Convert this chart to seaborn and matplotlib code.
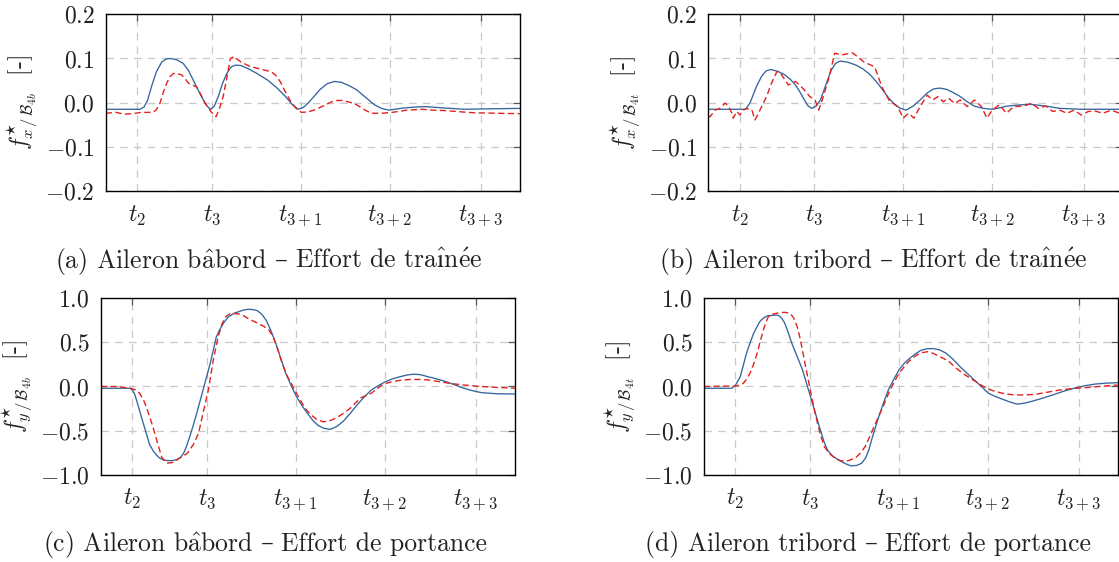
import matplotlib
matplotlib.use("Agg")
import matplotlib.pyplot as plt
import numpy as np
import pandas as pd
import seaborn as sns

# ---------------- data (time in periods) ----------------
tick_pos = [0.355, 1.191, 2.19, 3.19, 4.217]
tick_labels = [r"$t_2$", r"$t_3$", r"$t_{3+1}$", r"$t_{3+2}$", r"$t_{3+3}$"]
x_max = 4.652

# (a) bâbord - traînée
a_blue_t = [0.0, 0.385, 0.43, 0.47, 0.52, 0.57, 0.63, 0.68, 0.73, 0.80, 0.87, 0.93, 0.984, 1.04, 1.097, 1.14,
            1.18, 1.22, 1.265, 1.31, 1.36, 1.41, 1.46, 1.52, 1.60, 1.70, 1.82, 1.92, 2.02, 2.09, 2.16, 2.22,
            2.28, 2.34, 2.41, 2.49, 2.57, 2.65, 2.74, 2.82, 2.92, 3.02, 3.10, 3.18, 3.25, 3.35, 3.48, 3.59,
            3.80, 4.03, 4.30, 4.652]
a_blue_v = [-0.015, -0.015, -0.010, 0.005, 0.040, 0.070, 0.092, 0.099, 0.100, 0.097, 0.089, 0.073, 0.051,
            0.028, 0.006, -0.008, -0.015, -0.008, 0.014, 0.042, 0.066, 0.081, 0.085, 0.084, 0.077, 0.066,
            0.051, 0.034, 0.014, -0.003, -0.015, -0.011, 0.000, 0.014, 0.030, 0.043, 0.048, 0.046, 0.038,
            0.029, 0.012, -0.005, -0.013, -0.017, -0.015, -0.012, -0.010, -0.009, -0.012, -0.015, -0.014,
            -0.013]
a_red_t = [0.0, 0.12, 0.2, 0.3, 0.4, 0.53, 0.57, 0.61, 0.65, 0.685, 0.72, 0.76, 0.80, 0.853, 0.89, 0.93, 0.97,
           1.02, 1.07, 1.116, 1.19, 1.24, 1.28, 1.32, 1.36, 1.40, 1.44, 1.52, 1.62, 1.74, 1.86, 1.91, 1.96,
           2.02, 2.08, 2.14, 2.20, 2.27, 2.34, 2.44, 2.54, 2.60, 2.66, 2.74, 2.82, 2.90, 2.98, 3.10, 3.22,
           3.38, 3.55, 3.68, 3.82, 4.0, 4.15, 4.40, 4.652]
a_red_v = [-0.024, -0.022, -0.026, -0.025, -0.022, -0.022, -0.016, -0.001, 0.025, 0.044, 0.058, 0.066, 0.066,
           0.063, 0.055, 0.044, 0.040, 0.036, 0.018, -0.001, -0.022, -0.032, -0.012, 0.014, 0.055, 0.100,
           0.104, 0.092, 0.082, 0.076, 0.070, 0.062, 0.048, 0.024, 0.002, -0.013, -0.022, -0.021, -0.017,
           -0.008, 0.002, 0.005, 0.005, 0.001, -0.005, -0.015, -0.024, -0.024, -0.022, -0.017, -0.015,
           -0.017, -0.018, -0.021, -0.023, -0.024, -0.025]

# (b) tribord - traînée
b_blue_t = [0.0, 0.42, 0.47, 0.54, 0.60, 0.65, 0.70, 0.78, 0.86, 0.92, 0.98, 1.03, 1.08, 1.12, 1.16, 1.21,
            1.26, 1.32, 1.38, 1.43, 1.48, 1.56, 1.66, 1.74, 1.82, 1.89, 1.96, 2.02, 2.08, 2.15, 2.22, 2.30,
            2.38, 2.46, 2.53, 2.60, 2.68, 2.76, 2.83, 2.91, 2.99, 3.09, 3.19, 3.27, 3.35, 3.50, 3.63, 3.80,
            3.95, 4.20, 4.652]
b_blue_v = [-0.015, -0.015, 0.000, 0.036, 0.060, 0.072, 0.075, 0.071, 0.063, 0.053, 0.040, 0.024, 0.006,
            -0.007, -0.013, -0.008, 0.006, 0.040, 0.073, 0.089, 0.094, 0.092, 0.085, 0.076, 0.063, 0.047,
            0.029, 0.012, -0.001, -0.012, -0.017, -0.008, 0.006, 0.022, 0.031, 0.033, 0.030, 0.022, 0.014,
            0.002, -0.008, -0.013, -0.015, -0.012, -0.008, -0.005, -0.004, -0.008, -0.013, -0.015, -0.015]
b_red_t = [0.0, 0.02, 0.075, 0.13, 0.19, 0.23, 0.265, 0.28, 0.32, 0.355, 0.39, 0.43, 0.49, 0.525, 0.58, 0.655,
           0.71, 0.77, 0.80, 0.90, 0.98, 1.06, 1.14, 1.20, 1.24, 1.28, 1.36, 1.42, 1.50, 1.62, 1.75, 1.87,
           1.95, 2.03, 2.13, 2.19, 2.25, 2.31, 2.38, 2.46, 2.52, 2.58, 2.64, 2.70, 2.77, 2.83, 2.91, 2.99,
           3.07, 3.13, 3.19, 3.27, 3.35, 3.43, 3.55, 3.63, 3.71, 3.79, 3.87, 3.95, 4.03, 4.11, 4.19, 4.27,
           4.35, 4.43, 4.53, 4.62, 4.652]
b_red_v = [-0.030, -0.032, -0.017, -0.013, -0.001, -0.009, -0.024, -0.035, -0.020, -0.028, -0.017, -0.013,
           -0.017, -0.039, -0.017, 0.014, 0.044, 0.070, 0.070, 0.040, 0.048, 0.033, 0.014, 0.006, -0.017,
           0.006, 0.059, 0.112, 0.108, 0.113, 0.092, 0.081, 0.036, 0.006, -0.010, -0.035, -0.024, -0.035,
           -0.009, 0.017, 0.006, 0.0135, 0.002, 0.010, -0.002, 0.006, -0.009, 0.006, -0.009, -0.035, -0.017,
           -0.005, -0.024, -0.009, -0.0075, -0.0015, -0.013, -0.0075, -0.020, -0.017, -0.024, -0.017, -0.028,
           -0.020, -0.019, -0.024, -0.017, -0.024, -0.022]

# (c) bâbord - portance
c_blue_t = [0.0, 0.33, 0.36, 0.385, 0.41, 0.44, 0.47, 0.50, 0.55, 0.59, 0.63, 0.66, 0.70, 0.75, 0.80, 0.855,
            0.90, 0.93, 0.96, 1.00, 1.04, 1.08, 1.15, 1.23, 1.30, 1.335, 1.38, 1.435, 1.50, 1.555, 1.61, 1.66,
            1.71, 1.76, 1.81, 1.86, 1.91, 1.96, 2.02, 2.08, 2.14, 2.20, 2.26, 2.32, 2.38, 2.44, 2.51, 2.58,
            2.65, 2.72, 2.80, 2.88, 2.96, 3.04, 3.12, 3.20, 3.28, 3.36, 3.44, 3.52, 3.60, 3.68, 3.78, 3.88,
            3.98, 4.08, 4.18, 4.28, 4.45, 4.652]
c_blue_v = [-0.02, -0.02, -0.045, -0.096, -0.18, -0.285, -0.39, -0.49, -0.66, -0.73, -0.78, -0.81, -0.83,
            -0.84, -0.84, -0.83, -0.80, -0.76, -0.69, -0.57, -0.44, -0.30, -0.04, 0.26, 0.565, 0.64, 0.72,
            0.79, 0.83, 0.85, 0.868, 0.875, 0.872, 0.86, 0.82, 0.75, 0.64, 0.51, 0.33, 0.15, 0.01, -0.115,
            -0.215, -0.30, -0.38, -0.44, -0.475, -0.486, -0.455, -0.40, -0.31, -0.21, -0.12, -0.04, 0.01,
            0.055, 0.087, 0.11, 0.13, 0.14, 0.133, 0.11, 0.085, 0.055, 0.018, -0.02, -0.048, -0.07, -0.082,
            -0.085]
c_red_t = [0.0, 0.18, 0.26, 0.33, 0.40, 0.44, 0.48, 0.515, 0.55, 0.59, 0.63, 0.685, 0.74, 0.815, 0.89, 0.97,
           1.04, 1.10, 1.15, 1.21, 1.265, 1.32, 1.36, 1.395, 1.435, 1.475, 1.575, 1.675, 1.76, 1.835, 1.89,
           1.935, 1.99, 2.04, 2.09, 2.14, 2.19, 2.24, 2.30, 2.36, 2.43, 2.50, 2.57, 2.64, 2.72, 2.80, 2.86,
           2.92, 3.04, 3.10, 3.16, 3.22, 3.28, 3.38, 3.48, 3.58, 3.68, 3.80, 3.92, 4.05, 4.20, 4.40, 4.652]
c_red_v = [0.0, 0.0, -0.01, -0.02, -0.04, -0.08, -0.15, -0.24, -0.34, -0.47, -0.61, -0.80, -0.87, -0.86,
           -0.81, -0.76, -0.66, -0.53, -0.30, -0.04, 0.30, 0.565, 0.70, 0.78, 0.815, 0.83, 0.82, 0.76, 0.72,
           0.68, 0.64, 0.57, 0.42, 0.26, 0.13, 0.036, -0.06, -0.15, -0.25, -0.32, -0.375, -0.40, -0.39, -0.36,
           -0.31, -0.25, -0.19, -0.13, -0.077, -0.03, 0.017, 0.04, 0.055, 0.072, 0.08, 0.08, 0.074, 0.056,
           0.036, 0.02, 0.006, -0.008, -0.02]

# (d) tribord - portance
d_blue_t = [0.0, 0.315, 0.36, 0.41, 0.445, 0.48, 0.52, 0.56, 0.60, 0.63, 0.67, 0.71, 0.76, 0.82, 0.85, 0.88,
            0.91, 0.95, 0.99, 1.05, 1.11, 1.16, 1.21, 1.26, 1.31, 1.35, 1.39, 1.45, 1.51, 1.58, 1.655, 1.72,
            1.775, 1.82, 1.855, 1.90, 1.955, 2.015, 2.075, 2.135, 2.195, 2.255, 2.315, 2.38, 2.44, 2.51, 2.58,
            2.65, 2.72, 2.80, 2.88, 2.96, 3.04, 3.12, 3.20, 3.28, 3.36, 3.44, 3.52, 3.60, 3.68, 3.80, 3.92,
            4.04, 4.16, 4.28, 4.40, 4.52, 4.652]
d_blue_v = [-0.02, -0.02, 0.02, 0.11, 0.24, 0.375, 0.49, 0.60, 0.68, 0.735, 0.775, 0.80, 0.805, 0.81, 0.80,
            0.77, 0.72, 0.61, 0.49, 0.34, 0.19, 0.02, -0.15, -0.32, -0.49, -0.62, -0.72, -0.79, -0.83, -0.87,
            -0.90, -0.895, -0.87, -0.81, -0.72, -0.56, -0.38, -0.20, -0.04, 0.08, 0.19, 0.265, 0.32, 0.37,
            0.41, 0.428, 0.43, 0.415, 0.38, 0.31, 0.225, 0.15, 0.074, 0.0, -0.077, -0.115, -0.145, -0.175,
            -0.20, -0.19, -0.17, -0.135, -0.096, -0.055, -0.02, 0.008, 0.028, 0.038, 0.043]
d_red_t = [0.0, 0.27, 0.33, 0.39, 0.445, 0.48, 0.52, 0.56, 0.60, 0.635, 0.67, 0.70, 0.725, 0.77, 0.82, 0.87,
           0.92, 0.97, 1.01, 1.05, 1.08, 1.11, 1.15, 1.19, 1.23, 1.27, 1.31, 1.355, 1.41, 1.475, 1.535, 1.595,
           1.655, 1.715, 1.765, 1.815, 1.865, 1.915, 1.965, 2.015, 2.055, 2.095, 2.145, 2.195, 2.25, 2.30,
           2.35, 2.40, 2.46, 2.52, 2.58, 2.64, 2.70, 2.76, 2.84, 2.94, 3.00, 3.06, 3.12, 3.18, 3.27, 3.36,
           3.44, 3.52, 3.62, 3.72, 3.86, 4.00, 4.16, 4.32, 4.50, 4.652]
d_red_v = [0.0, 0.005, 0.0, 0.012, 0.036, 0.08, 0.15, 0.25, 0.375, 0.51, 0.64, 0.73, 0.79, 0.82, 0.83, 0.84,
           0.84, 0.83, 0.78, 0.68, 0.56, 0.41, 0.20, 0.0, -0.20, -0.38, -0.54, -0.68, -0.76, -0.81, -0.84,
           -0.85, -0.83, -0.80, -0.75, -0.68, -0.57, -0.455, -0.34, -0.23, -0.13, -0.04, 0.06, 0.15, 0.22,
           0.28, 0.325, 0.36, 0.385, 0.395, 0.375, 0.345, 0.315, 0.28, 0.205, 0.13, 0.09, 0.055, 0.015, -0.02,
           -0.055, -0.077, -0.09, -0.096, -0.095, -0.09, -0.065, -0.04, -0.022, -0.01, 0.005, 0.017]

yt_x = [-0.2, -0.1, 0.0, 0.1, 0.2]
yt_x_labels = [r"$-0.2$", r"$-0.1$", r"$0.0$", r"$0.1$", r"$0.2$"]
yt_y = [-1.0, -0.5, 0.0, 0.5, 1.0]
yt_y_labels = [r"$-1.0$", r"$-0.5$", r"$0.0$", r"$0.5$", r"$1.0$"]

ylabels = [r"$f^{\star}_{x\,/\,\mathcal{B}_{4b}}$  [-]", r"$f^{\star}_{x\,/\,\mathcal{B}_{4t}}$  [-]",
           r"$f^{\star}_{y\,/\,\mathcal{B}_{4b}}$  [-]", r"$f^{\star}_{y\,/\,\mathcal{B}_{4t}}$  [-]"]
# captions: (left part, dash, right part); accents drawn with mathtext so they stay in Computer Modern
A_HAT = r"$\hat{\mathrm{a}}$"
I_HAT = r"$\hat{\mathrm{ı}}$"
E_ACU = r"$\acute{\mathrm{e}}$"
captions = [
    ("(a) Aileron b" + A_HAT + "bord", "–", "Effort de tra" + I_HAT + "n" + E_ACU + "e"),
    ("(b) Aileron tribord", "–", "Effort de tra" + I_HAT + "n" + E_ACU + "e"),
    ("(c) Aileron b" + A_HAT + "bord", "–", "Effort de portance"),
    ("(d) Aileron tribord", "–", "Effort de portance"),
]

# ---------------- style ----------------
sns.set_theme(style="white")
plt.rcParams["font.family"] = ["cmr10", "DejaVu Serif"]
plt.rcParams["mathtext.fontset"] = "cm"
plt.rcParams["axes.formatter.use_mathtext"] = True

BLUE = "#34659e"
RED = "#e3201b"
FS = 17
CAP_FS = 18.5

W, H = 1119, 562
fig = plt.figure(figsize=(W / 100, H / 100), dpi=100)

# axes boxes in pixels: left, top, bottom
boxes = [(105.7, 14.3, 191.0), (708.3, 14.3, 191.0), (100.7, 298.3, 474.7), (703.7, 298.3, 474.7)]
ax_w = 414.0

panels = [
    (a_blue_t, a_blue_v, a_red_t, a_red_v, (-0.2, 0.2), yt_x, yt_x_labels),
    (b_blue_t, b_blue_v, b_red_t, b_red_v, (-0.2, 0.2), yt_x, yt_x_labels),
    (c_blue_t, c_blue_v, c_red_t, c_red_v, (-1.0, 1.0), yt_y, yt_y_labels),
    (d_blue_t, d_blue_v, d_red_t, d_red_v, (-1.0, 1.0), yt_y, yt_y_labels),
]
cap_pos = [(269, 268), (873.6, 268), (265, 551), (868, 551)]  # centre x, baseline y (px)

cap_texts = []
for i, (bt, bv, rt, rv, ylim, yt, ytl) in enumerate(panels):
    l, top, bot = boxes[i]
    ax = fig.add_axes([l / W, 1 - bot / H, ax_w / W, (bot - top) / H])
    blue = pd.DataFrame({"t": bt, "f": bv})
    red = pd.DataFrame({"t": rt, "f": rv})
    sns.lineplot(data=blue, x="t", y="f", ax=ax, color=BLUE, linewidth=0.95, estimator=None, sort=False)
    sns.lineplot(data=red, x="t", y="f", ax=ax, color=RED, linewidth=1.0, estimator=None, sort=False,
                 linestyle=(0, (4.5, 2.5)))
    ax.set_xlim(0, x_max)
    ax.set_ylim(*ylim)
    ax.set_xticks(tick_pos)
    ax.set_xticklabels(tick_labels)
    ax.set_yticks(yt)
    ax.set_yticklabels(ytl)
    ax.grid(True, color="#c8c8c8", linestyle=(0, (6, 5)), linewidth=0.9)
    ax.set_axisbelow(True)
    ax.tick_params(direction="in", length=5, width=0.9, color="#555555", top=True, right=True,
                   labelsize=FS, pad=8, labelcolor="#222222")
    ax.tick_params(axis="x", pad=9)
    for s in ax.spines.values():
        s.set_color("black")
        s.set_linewidth(1.0)
    ax.set_xlabel("")
    ax.set_ylabel(ylabels[i], fontsize=FS, color="#222222")
    ax.yaxis.set_label_coords(-0.158, 0.5)
    cx, cy = cap_pos[i]
    parts = [fig.text(0, 1 - cy / H, p, ha="left", va="baseline", fontsize=CAP_FS, color="#222222")
             for p in captions[i]]
    cap_texts.append((cx, cy, parts))

# lay the caption pieces side by side, centred under each panel
fig.canvas.draw()
renderer = fig.canvas.get_renderer()
GAP = 7.5
for cx, cy, parts in cap_texts:
    widths = [t.get_window_extent(renderer).width for t in parts]
    total = sum(widths) + GAP * (len(parts) - 1)
    x = cx - total / 2
    for t, w in zip(parts, widths):
        t.set_x(x / W)
        x += w + GAP

fig.savefig("out.png", dpi=100)
